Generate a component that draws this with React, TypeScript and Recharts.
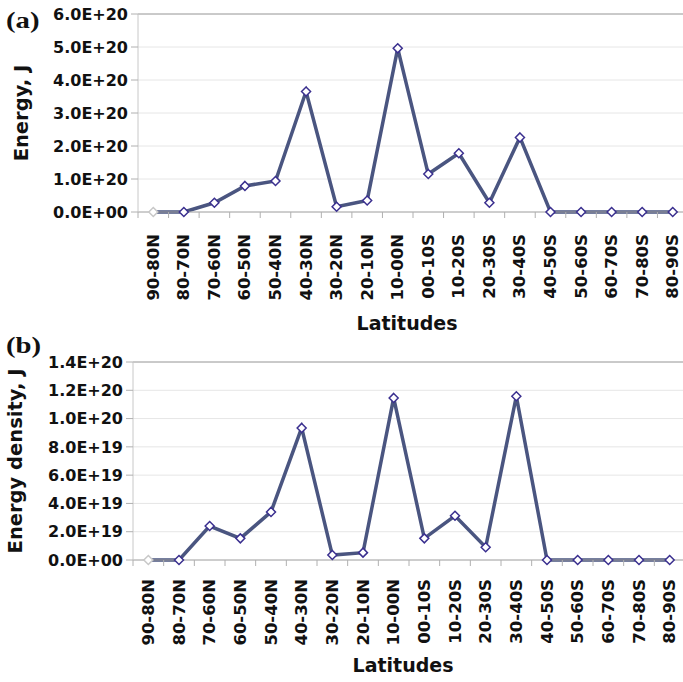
import {
  LineChart, Line, XAxis, YAxis, CartesianGrid, ReferenceLine,
} from 'recharts'

const LATITUDES = [
  '90-80N', '80-70N', '70-60N', '60-50N', '50-40N', '40-30N', '30-20N', '20-10N', '10-00N',
  '00-10S', '10-20S', '20-30S', '30-40S', '40-50S', '50-60S', '60-70S', '70-80S', '80-90S',
]

// panel (a): energy, J
const ENERGY = [
  0, 0, 0.28e20, 0.79e20, 0.94e20, 3.65e20, 0.16e20, 0.35e20, 4.96e20,
  1.15e20, 1.78e20, 0.28e20, 2.26e20, 0, 0, 0, 0, 0,
]
const ENERGY_TICKS = [0, 1e20, 2e20, 3e20, 4e20, 5e20, 6e20]

// panel (b): energy density, J
const DENSITY = [
  0, 0, 2.4e19, 1.53e19, 3.4e19, 9.34e19, 0.35e19, 0.52e19, 1.146e20,
  1.53e19, 3.13e19, 0.9e19, 1.158e20, 0, 0, 0, 0, 0,
]
const DENSITY_TICKS = [0, 2e19, 4e19, 6e19, 8e19, 1e20, 1.2e20, 1.4e20]

const rows = LATITUDES.map((lat, i) => ({ i, lat, energy: ENERGY[i], density: DENSITY[i] }))
// tick marks sit between categories, like the Excel original
const BOUNDARIES = [...LATITUDES.map((_, i) => i - 0.5), LATITUDES.length - 0.5]

const FONT = '"DejaVu Sans", sans-serif'
const LINE_COLOR = '#4a5580'
const MARKER_COLOR = '#3a2f8f'

function fmtExp(v: number) {
  const [m, e] = v.toExponential(1).split('e')
  return `${m}E${e[0]}${e.slice(1).padStart(2, '0')}`
}

function diamondDot(props: any) {
  const { cx, cy, index } = props
  if (cx == null || cy == null) return <g key={index} />
  const r = 4.5
  return (
    <polygon
      key={index}
      points={`${cx},${cy - r} ${cx + r},${cy} ${cx},${cy + r} ${cx - r},${cy}`}
      fill="#fff"
      stroke={index === 0 ? '#c8c8c8' : MARKER_COLOR}
      strokeWidth={1.5}
    />
  )
}

function LatTick(props: any) {
  const { x, y, payload, gap } = props
  const ty = y + gap
  return (
    <text
      x={x}
      y={ty}
      transform={`rotate(-90, ${x}, ${ty})`}
      textAnchor="end"
      dominantBaseline="central"
      fontFamily={FONT}
      fontWeight="bold"
      fontSize={16.5}
      fill="#111"
    >
      {LATITUDES[payload.value]}
    </text>
  )
}

interface PanelProps {
  dataKey: string
  ticks: number[]
  yLabel: string
  top: number
  height: number
  margin: { top: number; right: number }
  yWidth: number
  axisHeight: number
  tickGap: number
  yLabelOffset: number
}

function Panel(p: PanelProps) {
  const max = p.ticks[p.ticks.length - 1]
  return (
    <div style={{ position: 'absolute', left: 0, top: p.top }}>
      <LineChart
        width={690}
        height={p.height}
        data={rows}
        margin={{ top: p.margin.top, right: p.margin.right, left: 0, bottom: 0 }}
      >
        <CartesianGrid vertical={false} stroke="#e6e6e6" />
        {/* id 0 keeps this one next to the plot: it carries the axis line and tick marks */}
        <XAxis
          type="number"
          dataKey="i"
          domain={[-0.5, LATITUDES.length - 0.5]}
          ticks={BOUNDARIES}
          interval={0}
          tickFormatter={() => ''}
          tickSize={6}
          tickLine={{ stroke: '#b0b0b0' }}
          axisLine={{ stroke: '#a8a8a8' }}
          height={1}
        />
        <XAxis
          xAxisId="lab"
          type="number"
          dataKey="i"
          domain={[-0.5, LATITUDES.length - 0.5]}
          ticks={LATITUDES.map((_, i) => i)}
          interval={0}
          tickLine={false}
          axisLine={false}
          tickSize={0}
          tickMargin={0}
          height={p.axisHeight}
          tick={<LatTick gap={p.tickGap} />}
          label={{
            value: 'Latitudes',
            position: 'insideBottom',
            offset: 10,
            dx: -6,
            style: { fontFamily: FONT, fontWeight: 'bold', fontSize: 19, fill: '#111' },
          }}
        />
        <YAxis
          width={p.yWidth}
          domain={[0, max]}
          ticks={p.ticks}
          interval={0}
          tickFormatter={fmtExp}
          tickSize={7}
          tickMargin={3}
          tickLine={{ stroke: '#b0b0b0' }}
          axisLine={{ stroke: '#c8c8c8' }}
          tick={{ fontFamily: FONT, fontWeight: 'bold', fontSize: 16, fill: '#111' }}
          label={{
            value: p.yLabel,
            angle: -90,
            position: 'insideLeft',
            offset: p.yLabelOffset,
            style: { textAnchor: 'middle', fontFamily: FONT, fontWeight: 'bold', fontSize: 19.5, fill: '#111' },
          }}
        />
        <ReferenceLine y={max} stroke="#a0a0a0" />
        <Line
          type="linear"
          dataKey={p.dataKey}
          stroke={LINE_COLOR}
          strokeWidth={3.5}
          dot={diamondDot}
          activeDot={false}
          isAnimationActive={false}
        />
      </LineChart>
    </div>
  )
}

const panelTag: React.CSSProperties = {
  position: 'absolute',
  left: 6,
  fontFamily: '"Liberation Serif", serif',
  fontWeight: 'bold',
  fontSize: 23,
  lineHeight: '24px',
  transform: 'scaleX(1.25)',
  transformOrigin: 'left center',
  color: '#111',
}

export default function App() {
  return (
    <div
      style={{
        position: 'absolute', left: 0, top: 0, width: 683, height: 682,
        overflow: 'hidden', background: '#fff',
      }}
    >
      <Panel
        dataKey="energy"
        ticks={ENERGY_TICKS}
        yLabel="Energy, J"
        top={0}
        height={340}
        margin={{ top: 14, right: 2 }}
        yWidth={138}
        axisHeight={127}
        tickGap={21}
        yLabelOffset={21}
      />
      <Panel
        dataKey="density"
        ticks={DENSITY_TICKS}
        yLabel="Energy density, J"
        top={340}
        height={342}
        margin={{ top: 22, right: 5 }}
        yWidth={133}
        axisHeight={121}
        tickGap={18}
        yLabelOffset={15}
      />
      <div style={{ ...panelTag, top: 9 }}>(a)</div>
      <div style={{ ...panelTag, top: 334 }}>(b)</div>
    </div>
  )
}
